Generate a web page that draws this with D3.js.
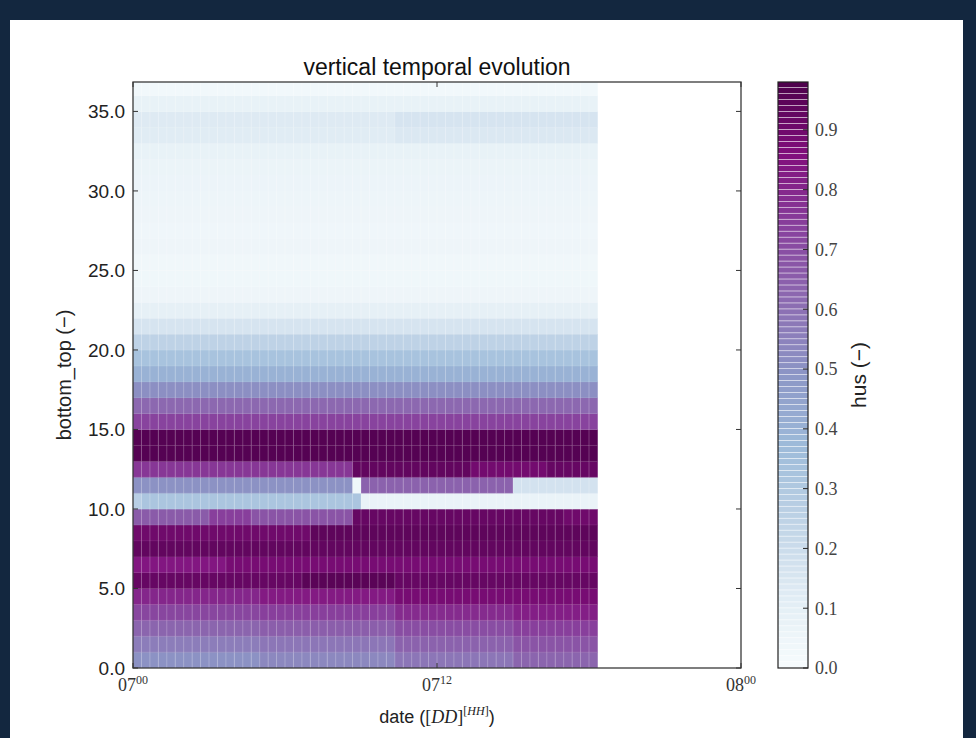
<!DOCTYPE html>
<html>
<head>
<meta charset="utf-8">
<script src="https://cdn.jsdelivr.net/npm/d3@7"></script>
<style>
  body { margin: 0; background: #13273f; }
  svg { display: block; }
</style>
</head>
<body>
<script>
// time grid: one column every 20 minutes from 07^00
var stepHours = 1 / 3,
    nSteps = 55;

// hus per model level (bottom_top), as runs of [firstCol, lastCol, value]
var husRuns = [
  [[0, 14, 0.50], [15, 30, 0.53], [31, 44, 0.58], [45, 54, 0.63]],   // 0
  [[0, 14, 0.56], [15, 30, 0.58], [31, 44, 0.64], [45, 54, 0.68]],   // 1
  [[0, 14, 0.63], [15, 30, 0.65], [31, 44, 0.70], [45, 54, 0.74]],   // 2
  [[0, 14, 0.72], [15, 30, 0.74], [31, 44, 0.79], [45, 54, 0.82]],   // 3
  [[0, 14, 0.80], [15, 30, 0.83], [31, 54, 0.88]],                   // 4
  [[0, 19, 0.92], [20, 30, 0.95], [31, 54, 0.92]],                   // 5
  [[0, 10, 0.84], [11, 54, 0.88]],                                   // 6
  [[0, 54, 0.93]],                                                   // 7
  [[0, 20, 0.90], [21, 54, 0.94]],                                   // 8
  [[0, 8, 0.66], [9, 13, 0.74], [14, 25, 0.68], [26, 50, 0.92], [51, 54, 0.90]], // 9
  [[0, 0, 0.27], [1, 26, 0.32], [27, 54, 0.07]],                     // 10
  [[0, 25, 0.50], [26, 26, 0.04], [27, 44, 0.64], [45, 54, 0.17]],   // 11
  [[0, 25, 0.76], [26, 39, 0.93], [40, 48, 0.89], [49, 54, 0.92]],   // 12
  [[0, 54, 0.96]],                                                   // 13
  [[0, 54, 0.96]],                                                   // 14
  [[0, 54, 0.73]],                                                   // 15
  [[0, 54, 0.62]],                                                   // 16
  [[0, 54, 0.51]],                                                   // 17
  [[0, 54, 0.40]],                                                   // 18
  [[0, 54, 0.33]],                                                   // 19
  [[0, 54, 0.25]],                                                   // 20
  [[0, 54, 0.16]],                                                   // 21
  [[0, 54, 0.09]],                                                   // 22
  [[0, 54, 0.05]],                                                   // 23
  [[0, 54, 0.04]],                                                   // 24
  [[0, 54, 0.035]],                                                  // 25
  [[0, 54, 0.05]],                                                   // 26
  [[0, 54, 0.045]],                                                  // 27
  [[0, 54, 0.05]],                                                   // 28
  [[0, 54, 0.055]],                                                  // 29
  [[0, 54, 0.06]],                                                   // 30
  [[0, 54, 0.065]],                                                  // 31
  [[0, 54, 0.08]],                                                   // 32
  [[0, 30, 0.12], [31, 54, 0.14]],                                   // 33
  [[0, 30, 0.13], [31, 54, 0.16]],                                   // 34
  [[0, 54, 0.08]],                                                   // 35
  [[0, 54, 0.03]]                                                    // 36
];

var yTicks = [0, 5, 10, 15, 20, 25, 30, 35],
    xTicks = [{h: 0, d: "07", hh: "00"}, {h: 12, d: "07", hh: "12"}, {h: 24, d: "08", hh: "00"}],
    cbTicks = [0, 0.1, 0.2, 0.3, 0.4, 0.5, 0.6, 0.7, 0.8, 0.9];

var vmax = 0.98,
    buPu = ["#f7fcfd", "#e0ecf4", "#bfd3e6", "#9ebcda", "#8c96c6", "#8c6bb1", "#88419d", "#810f7c", "#4d004b"];

(function() {
var W = 976, H = 738;
var pL = 133, pR = 741, pT = 82, pB = 668;
var sans = "'Liberation Sans', Arial, sans-serif",
    serif = "'Liberation Serif', 'DejaVu Serif', serif";

var x = d3.scaleLinear().domain([0, 24]).range([pL, pR]),
    y = d3.scaleLinear().domain([0, 36.85]).range([pB, pT]),
    color = d3.scaleLinear()
      .domain(buPu.map(function(c, i) { return i / 8 * vmax; }))
      .range(buPu)
      .clamp(true);

var svg = d3.select("body").append("svg")
    .attr("width", W)
    .attr("height", H);

// white page on the dark slide
svg.append("rect")
    .attr("x", 10).attr("y", 20)
    .attr("width", 953).attr("height", H - 20)
    .attr("fill", "#fff");

// flatten runs into cells
var cells = [];
husRuns.forEach(function(runs, lev) {
  runs.forEach(function(r) {
    for (var c = r[0]; c <= r[1]; c++) {
      cells.push({lev: lev, col: c, v: r[2]});
    }
  });
});

var plot = svg.append("g");
svg.append("clipPath").attr("id", "clip")
  .append("rect")
    .attr("x", pL).attr("y", pT)
    .attr("width", pR - pL).attr("height", pB - pT);

var cg = plot.append("g").attr("clip-path", "url(#clip)");

cg.selectAll("rect.cell")
  .data(cells)
  .enter().append("rect")
    .attr("class", "cell")
    .attr("x", function(d) { return x(d.col * stepHours); })
    .attr("width", function(d) { return x((d.col + 1) * stepHours) - x(d.col * stepHours) + 0.3; })
    .attr("y", function(d) { return y(d.lev + 1); })
    .attr("height", function(d) { return y(d.lev) - y(d.lev + 1) + 0.3; })
    .attr("fill", function(d) { return color(d.v); });

// faint seams between the mesh columns / rows
cg.selectAll("line.vseam")
  .data(d3.range(1, nSteps))
  .enter().append("line")
    .attr("x1", function(d) { return x(d * stepHours); })
    .attr("x2", function(d) { return x(d * stepHours); })
    .attr("y1", y(0)).attr("y2", y(husRuns.length))
    .attr("stroke", "#fff")
    .attr("stroke-opacity", 0.3)
    .attr("stroke-width", 0.8);

cg.selectAll("line.hseam")
  .data(d3.range(1, husRuns.length))
  .enter().append("line")
    .attr("x1", x(0)).attr("x2", x(nSteps * stepHours))
    .attr("y1", function(d) { return y(d); })
    .attr("y2", function(d) { return y(d); })
    .attr("stroke", "#fff")
    .attr("stroke-opacity", 0.14)
    .attr("stroke-width", 0.6);

// frame
plot.append("rect")
    .attr("x", pL).attr("y", pT)
    .attr("width", pR - pL).attr("height", pB - pT)
    .attr("fill", "none")
    .attr("stroke", "#3a3a3a")
    .attr("stroke-width", 1.3);

// y ticks, inward on both sides
yTicks.forEach(function(t) {
  plot.append("line")
      .attr("x1", pL).attr("x2", pL + 5)
      .attr("y1", y(t)).attr("y2", y(t))
      .attr("stroke", "#333");
  plot.append("line")
      .attr("x1", pR - 5).attr("x2", pR)
      .attr("y1", y(t)).attr("y2", y(t))
      .attr("stroke", "#333");
  plot.append("text")
      .attr("x", pL - 8)
      .attr("y", y(t))
      .attr("dy", "0.36em")
      .attr("text-anchor", "end")
      .style("font-family", sans)
      .style("font-size", "19px")
      .attr("fill", "#222")
      .text(t.toFixed(1));
});

// x ticks: day with hour superscript
xTicks.forEach(function(t) {
  plot.append("line")
      .attr("x1", x(t.h)).attr("x2", x(t.h))
      .attr("y1", pB).attr("y2", pB - 5)
      .attr("stroke", "#333");
  plot.append("line")
      .attr("x1", x(t.h)).attr("x2", x(t.h))
      .attr("y1", pT).attr("y2", pT + 5)
      .attr("stroke", "#333");
  var tx = plot.append("text")
      .attr("x", x(t.h))
      .attr("y", pB + 23)
      .attr("text-anchor", "middle")
      .attr("fill", "#333")
      .style("font-family", serif)
      .style("font-size", "18px");
  tx.append("tspan").text(t.d);
  tx.append("tspan").attr("dy", -7).style("font-size", "12px").text(t.hh);
});

// title
svg.append("text")
    .attr("x", (pL + pR) / 2)
    .attr("y", 75)
    .attr("text-anchor", "middle")
    .style("font-family", sans)
    .style("font-size", "23px")
    .attr("fill", "#111")
    .text("vertical temporal evolution");

// y label
svg.append("text")
    .attr("transform", "translate(71," + (pT + pB) / 2 + ") rotate(-90)")
    .attr("text-anchor", "middle")
    .style("font-family", sans)
    .style("font-size", "20px")
    .attr("fill", "#222")
    .text("bottom_top (\u2212)");

// x label: date ([DD]^[HH])
var xl = svg.append("text")
    .attr("x", (pL + pR) / 2)
    .attr("y", 723)
    .attr("text-anchor", "middle")
    .style("font-family", sans)
    .style("font-size", "18px")
    .attr("fill", "#222");
xl.append("tspan").text("date (");
xl.append("tspan").style("font-family", serif).text("[");
xl.append("tspan").style("font-family", serif).style("font-style", "italic").text("DD");
xl.append("tspan").style("font-family", serif).text("]");
xl.append("tspan").attr("dy", -8).style("font-family", serif).style("font-size", "12px")
    .html("[<tspan font-style='italic'>HH</tspan>]");
xl.append("tspan").attr("dy", 8).text(")");

// colorbar
var cbX = 778, cbW = 30;
var cy = d3.scaleLinear().domain([0, vmax]).range([pB, pT]);
var nBands = 98;
var bands = d3.range(nBands).map(function(i) { return i * vmax / nBands; });

var cb = svg.append("g");
cb.selectAll("rect.band")
  .data(bands)
  .enter().append("rect")
    .attr("x", cbX)
    .attr("width", cbW)
    .attr("y", function(d) { return cy(d + vmax / nBands); })
    .attr("height", function(d) { return cy(d) - cy(d + vmax / nBands) - 0.6; })
    .attr("fill", function(d) { return color(d + vmax / nBands / 2); });

cb.append("rect")
    .attr("x", cbX).attr("y", pT)
    .attr("width", cbW).attr("height", pB - pT)
    .attr("fill", "none")
    .attr("stroke", "#222")
    .attr("stroke-width", 1.2);

cbTicks.forEach(function(t) {
  cb.append("line")
      .attr("x1", cbX + cbW - 5).attr("x2", cbX + cbW)
      .attr("y1", cy(t)).attr("y2", cy(t))
      .attr("stroke", "#222");
  cb.append("text")
      .attr("x", cbX + cbW + 7)
      .attr("y", cy(t))
      .attr("dy", "0.35em")
      .style("font-family", serif)
      .style("font-size", "18px")
      .attr("fill", "#444")
      .text(t.toFixed(1));
});

svg.append("text")
    .attr("transform", "translate(866," + (pT + pB) / 2 + ") rotate(-90)")
    .attr("text-anchor", "middle")
    .style("font-family", sans)
    .style("font-size", "21px")
    .attr("fill", "#222")
    .text("hus (\u2212)");
})();
</script>
</body>
</html>
